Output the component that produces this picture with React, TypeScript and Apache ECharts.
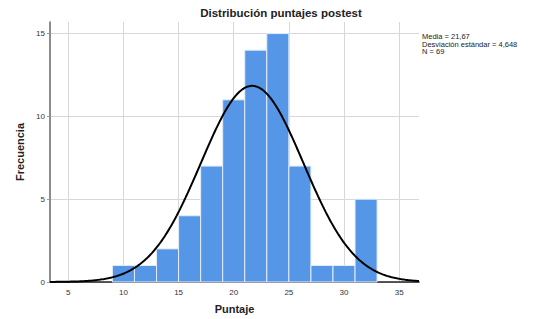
import React, { useEffect, useRef } from "react";
import * as echarts from "echarts";

const binStarts = [9, 11, 13, 15, 17, 19, 21, 23, 25, 27, 29, 31];
const binWidth = 2;
const counts = [1, 1, 2, 4, 7, 11, 14, 15, 7, 1, 1, 5];
const xTicks = [5, 10, 15, 20, 25, 30, 35];
const yTicks = [0, 5, 10, 15];
const MEAN = 21.67;
const SD = 4.648;
const N = 69;
const statLines = ["Media = 21,67", "Desviación estándar = 4,648", "N = 69"];

const X_MIN = 3.34;
const X_MAX = 36.8;
const Y_MAX = 15.7;

export default function App() {
  const ref = useRef<HTMLDivElement>(null);
  useEffect(() => {
    if (!ref.current) return;
    const chart = echarts.init(ref.current, undefined, { renderer: "svg" });
    const bars = binStarts.map((s, i) => [s, s + binWidth, counts[i]]);
    const curve: number[][] = [];
    const steps = 300;
    for (let i = 0; i <= steps; i++) {
      const x = X_MIN + ((X_MAX - X_MIN) * i) / steps;
      const z = (x - MEAN) / SD;
      const y = (N * binWidth) / (SD * Math.sqrt(2 * Math.PI)) * Math.exp(-0.5 * z * z);
      curve.push([x, y]);
    }
    const font = "Liberation Sans, Arial, sans-serif";
    chart.setOption({
      animation: false,
      grid: { left: 50, right: 115, top: 22, bottom: 35, containLabel: false },
      xAxis: {
        type: "value",
        min: X_MIN,
        max: X_MAX,
        axisLine: { show: true, lineStyle: { color: "#222", width: 1.5 } },
        axisTick: { show: false, customValues: xTicks },
        axisLabel: { customValues: xTicks, fontSize: 8, color: "#333", margin: 6, fontFamily: font },
        splitLine: { show: true, lineStyle: { color: "#d8d8d8", width: 1 } },
        name: "Puntaje",
        nameLocation: "middle",
        nameGap: 21,
        nameTextStyle: { fontSize: 11, fontWeight: "bold", color: "#222", fontFamily: font },
      },
      yAxis: {
        type: "value",
        min: 0,
        max: Y_MAX,
        axisLine: { show: true, lineStyle: { color: "#666", width: 1.5 } },
        axisTick: { show: true, length: 3, customValues: yTicks, lineStyle: { color: "#999" } },
        axisLabel: { customValues: yTicks, fontSize: 8, color: "#333", margin: 5, fontFamily: font },
        splitLine: { show: true, lineStyle: { color: "#d8d8d8", width: 1 } },
        name: "Frecuencia",
        nameLocation: "middle",
        nameGap: 22,
        nameTextStyle: { fontSize: 11, fontWeight: "bold", color: "#222", fontFamily: font },
      },
      series: [
        {
          type: "custom",
          data: bars,
          encode: { x: [0, 1], y: 2 },
          renderItem: (params: any, api: any) => {
            const p0 = api.coord([api.value(0), api.value(2)]);
            const p1 = api.coord([api.value(1), 0]);
            return {
              type: "rect",
              shape: { x: p0[0], y: p0[1], width: p1[0] - p0[0], height: p1[1] - p0[1] },
              style: { fill: "#5596e6", stroke: "#e4edf9", lineWidth: 1 },
            };
          },
          z: 2,
        },
        {
          type: "line",
          data: curve,
          showSymbol: false,
          smooth: false,
          lineStyle: { color: "#000", width: 2 },
          z: 3,
        },
      ],
      graphic: [
        {
          type: "text",
          x: 281,
          y: 7,
          style: {
            text: "Distribución puntajes postest",
            fontSize: 11.5,
            fontWeight: "bold",
            fill: "#222",
            fontFamily: font,
            align: "center",
            textAlign: "center",
          },
        },
        {
          type: "text",
          x: 422,
          y: 33,
          style: {
            text: statLines.join("\n"),
            fontSize: 7.5,
            lineHeight: 7.5,
            fill: "#222",
            fontFamily: font,
          },
        },
      ],
    });
    return () => chart.dispose();
  }, []);
  return <div ref={ref} style={{ width: 534, height: 319, position: "absolute", left: 0, top: 0 }} />;
}
